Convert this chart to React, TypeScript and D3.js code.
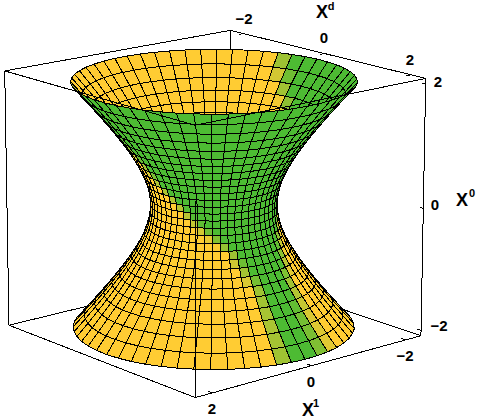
import React, { useEffect, useRef } from 'react'
import * as d3 from 'd3'

// axis ticks
const xTicks = [-2, 0, 2]
const yTicks = [-2, 0, 2]
const zTicks = [-2, 0, 2]

// rings of the surface, bottom to top
const ringZ = [-2, -1.797, -1.607, -1.432, -1.269, -1.118, -0.976, -0.84, -0.711, -0.586, -0.464, -0.346, -0.229, -0.114, 0,
  0.114, 0.229, 0.346, 0.464, 0.586, 0.711, 0.84, 0.976, 1.118, 1.269, 1.432, 1.607, 1.797, 2]
const ringR = [2.236, 2.057, 1.893, 1.747, 1.616, 1.5, 1.397, 1.306, 1.227, 1.159, 1.102, 1.058, 1.026, 1.006, 1,
  1.006, 1.026, 1.058, 1.102, 1.159, 1.227, 1.306, 1.397, 1.5, 1.616, 1.747, 1.893, 2.057, 2.236]
const STEP = 360 / 54
const OFFSET = 2
const meridians = d3.range(54).map(i => OFFSET + i * STEP)

// where the green patch starts and ends on each height, in degrees
const greenZ = [-2, -1.5, -1, -0.5, 0, 0.5, 1, 1.5, 2]
const greenStart = [78, 79, 78, 64, 30, 0, -15, -27, -35]
const greenEnd = [101, 102, 106, 117, 135, 155, 175, 192, 201]

const YELLOW = '#ffcc33'
const GREEN = '#4dbb33'
const BX = 2.33
const BZ = 2.09

// box corners: x, y, z -> px, py
const corners: number[][] = [
  [-BX, -BX, BZ, 230, 30], [-BX, BX, BZ, 426, 79], [BX, -BX, BZ, 5, 71], [BX, BX, BZ, 195, 125],
  [-BX, -BX, -BZ, 230, 272], [-BX, BX, -BZ, 421, 335], [BX, -BX, -BZ, 9, 325], [BX, BX, -BZ, 195, 398],
]

function solve(A: number[][], b: number[]) {
  const n = b.length
  const m = A.map((r, i) => [...r, b[i]])
  for (let c = 0; c < n; c++) {
    let p = c
    for (let r = c + 1; r < n; r++) if (Math.abs(m[r][c]) > Math.abs(m[p][c])) p = r
    ;[m[c], m[p]] = [m[p], m[c]]
    for (let r = 0; r < n; r++) {
      if (r === c) continue
      const f = m[r][c] / m[c][c]
      for (let k = c; k <= n; k++) m[r][k] -= f * m[c][k]
    }
  }
  return m.map((r, i) => r[n] / r[i])
}

// fit the camera to the corners
function fitCamera() {
  const rows: number[][] = []
  const rhs: number[] = []
  corners.forEach(([x, y, z, u, v]) => {
    rows.push([x, y, z, 1, 0, 0, 0, 0, -u * x, -u * y, -u * z]); rhs.push(u)
    rows.push([0, 0, 0, 0, x, y, z, 1, -v * x, -v * y, -v * z]); rhs.push(v)
  })
  const AtA = d3.range(11).map(i => d3.range(11).map(j => d3.sum(rows, r => r[i] * r[j])))
  const Atb = d3.range(11).map(i => d3.sum(rows, (r, k) => r[i] * rhs[k]))
  return solve(AtA, Atb)
}
const P = fitCamera()
const depth = (x: number, y: number, z: number) => P[8] * x + P[9] * y + P[10] * z + 1
const project = (x: number, y: number, z: number): [number, number] => {
  const w = depth(x, y, z)
  return [(P[0] * x + P[1] * y + P[2] * z + P[3]) / w, (P[4] * x + P[5] * y + P[6] * z + P[7]) / w]
}

const startAt = d3.scaleLinear().domain(greenZ).range(greenStart)
const endAt = d3.scaleLinear().domain(greenZ).range(greenEnd)
const mix = d3.interpolateRgb(YELLOW, GREEN)

function cellColor(theta: number, z: number) {
  const s0 = startAt(z)
  const width = endAt(z) - s0
  const a = ((theta - s0 + 90) % 360 + 360) % 360 - 90
  const w = 6
  const t = Math.min((a + w) / (2 * w), (width - a + w) / (2 * w))
  return mix(Math.max(0, Math.min(1, t)))
}

const rad = (d: number) => (d * Math.PI) / 180
const surf = (i: number, deg: number): [number, number, number] =>
  [ringR[i] * Math.cos(rad(deg)), ringR[i] * Math.sin(rad(deg)), ringZ[i]]

const labels = [
  { t: '\u22122', x: 244, y: 19 }, { t: '0', x: 324, y: 38 }, { t: '2', x: 410, y: 60 },
  { t: '2', x: 438, y: 82 }, { t: '0', x: 435, y: 205 }, { t: '\u22122', x: 439, y: 326 },
  { t: '\u22122', x: 405, y: 356 }, { t: '0', x: 311, y: 382 }, { t: '2', x: 212, y: 409 },
]
const axisNames = [
  { t: 'X', s: 'd', x: 322, y: 11, sx: 331, sy: 6 },
  { t: 'X', s: '0', x: 462, y: 199, sx: 472, sy: 193 },
  { t: 'X', s: '1', x: 308, y: 409, sx: 316, sy: 403 },
]

export default function App() {
  const ref = useRef<SVGSVGElement>(null)
  useEffect(() => {
    const svg = d3.select(ref.current)
    svg.selectAll('*').remove()
    const line = d3.line()
    const edge = (g: any, a: number[], b: number[]) =>
      g.append('path').attr('d', line([project(a[0], a[1], a[2]), project(b[0], b[1], b[2])]))
        .attr('stroke', '#000').attr('fill', 'none').attr('stroke-width', 1)

    const back = svg.append('g').attr('shape-rendering', 'crispEdges')
    edge(back, [-BX, -BX, BZ], [-BX, BX, BZ])
    edge(back, [-BX, -BX, BZ], [BX, -BX, BZ])
    edge(back, [-BX, -BX, BZ], [-BX, -BX, -BZ])
    edge(back, [-BX, -BX, -BZ], [BX, -BX, -BZ])
    edge(back, [-BX, -BX, -BZ], [-BX, BX, -BZ])
    edge(back, [-BX, BX, BZ], [-BX, BX, -BZ])
    edge(back, [BX, -BX, BZ], [BX, -BX, -BZ])
    edge(back, [BX, -BX, -BZ], [BX, BX, -BZ])
    edge(back, [BX, BX, -BZ], [-BX, BX, -BZ])
    xTicks.forEach(x => edge(back, [x, BX, -BZ], [x, BX - 0.1, -BZ]))
    yTicks.forEach(y => edge(back, [-BX, y, BZ], [-BX + 0.1, y, BZ]))
    zTicks.forEach(z => edge(back, [-BX, BX, z], [-BX, BX - 0.08, z]))

    const cells: { pts: [number, number][]; d: number; fill: string }[] = []
    d3.range(ringZ.length - 1).forEach(i => {
      meridians.forEach(m => {
        const c = [surf(i, m), surf(i, m + STEP), surf(i + 1, m + STEP), surf(i + 1, m)]
        cells.push({
          pts: c.map(p => project(p[0], p[1], p[2])),
          d: d3.mean(c, p => depth(p[0], p[1], p[2])) as number,
          fill: cellColor(m + STEP / 2, (ringZ[i] + ringZ[i + 1]) / 2),
        })
      })
    })
    cells.sort((a, b) => b.d - a.d)
    svg.append('g').attr('shape-rendering', 'crispEdges').selectAll('path').data(cells).join('path')
      .attr('d', d => line(d.pts) + 'Z')
      .attr('fill', d => d.fill)
      .attr('stroke', '#000')
      .attr('stroke-width', 1)

    // front edges run over the surface
    const front = svg.append('g').attr('shape-rendering', 'crispEdges')
    edge(front, [BX, -BX, BZ], [BX, BX, BZ])
    edge(front, [BX, BX, BZ], [-BX, BX, BZ])
    edge(front, [BX, BX, 0.95], [BX, BX, -BZ])

    const text = svg.append('g').attr('font-family', '"Liberation Sans", Arial, sans-serif').attr('font-weight', 'bold').attr('fill', '#000')
    text.selectAll('.tick').data(labels).join('text').attr('class', 'tick')
      .attr('x', d => d.x).attr('y', d => d.y + 5).attr('text-anchor', 'middle').attr('font-size', 15).text(d => d.t)
    text.selectAll('.name').data(axisNames).join('text').attr('class', 'name')
      .attr('x', d => d.x).attr('y', d => d.y + 7).attr('text-anchor', 'middle').attr('font-size', 18).text(d => d.t)
    text.selectAll('.sup').data(axisNames).join('text').attr('class', 'sup')
      .attr('x', d => d.sx).attr('y', d => d.sy + 4).attr('text-anchor', 'middle').attr('font-size', 11).text(d => d.s)
  }, [])
  return <svg ref={ref} width={481} height={420} style={{ position: 'absolute', left: 0, top: 0, background: '#fff' }} />
}
